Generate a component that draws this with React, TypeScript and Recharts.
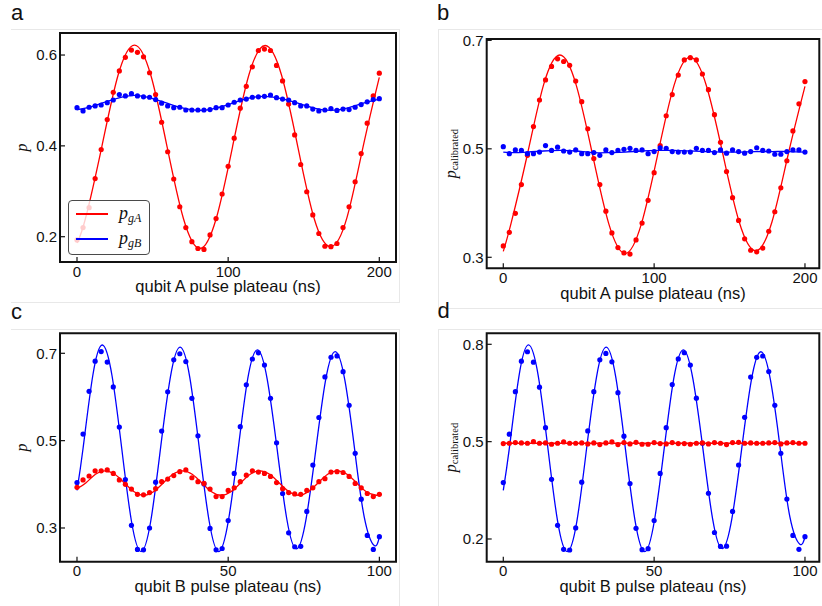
import {
  ComposedChart,
  Line,
  Scatter,
  XAxis,
  YAxis,
  ReferenceArea,
  Legend,
} from "recharts";

const SANS = '"Liberation Sans", Arial, Helvetica, sans-serif';
const SERIF = '"Liberation Serif", "Times New Roman", serif';
const RED = "#ff0000";
const BLUE = "#0000ff";

// pulse plateau grids (ns)
const tLong = [
  0, 4, 8, 12, 16, 20, 24, 28, 32, 36, 40, 44, 48, 52, 56, 60, 64, 68, 72, 76,
  80, 84, 88, 92, 96, 100, 104, 108, 112, 116, 120, 124, 128, 132, 136, 140,
  144, 148, 152, 156, 160, 164, 168, 172, 176, 180, 184, 188, 192, 196, 200,
];
const tShort = [
  0, 2, 4, 6, 8, 10, 12, 14, 16, 18, 20, 22, 24, 26, 28, 30, 32, 34, 36, 38,
  40, 42, 44, 46, 48, 50, 52, 54, 56, 58, 60, 62, 64, 66, 68, 70, 72, 74, 76,
  78, 80, 82, 84, 86, 88, 90, 92, 94, 96, 98, 100,
];

// panel a
const aRed = [
  0.193, 0.22, 0.264, 0.328, 0.392, 0.458, 0.518, 0.565, 0.595, 0.611, 0.606,
  0.596, 0.561, 0.513, 0.452, 0.387, 0.327, 0.266, 0.22, 0.189, 0.174, 0.172,
  0.204, 0.24, 0.294, 0.355, 0.417, 0.483, 0.531, 0.574, 0.61, 0.613, 0.61,
  0.577, 0.543, 0.492, 0.424, 0.359, 0.299, 0.248, 0.207, 0.179, 0.178, 0.185,
  0.22, 0.266, 0.321, 0.383, 0.45, 0.51, 0.56,
];
const aBlue = [
  0.484, 0.477, 0.485, 0.488, 0.49, 0.495, 0.501, 0.513, 0.51, 0.515, 0.51,
  0.508, 0.507, 0.502, 0.494, 0.488, 0.484, 0.485, 0.479, 0.479, 0.479, 0.479,
  0.48, 0.484, 0.484, 0.49, 0.496, 0.501, 0.503, 0.507, 0.508, 0.509, 0.512,
  0.506, 0.503, 0.501, 0.495, 0.488, 0.488, 0.481, 0.477, 0.479, 0.482, 0.478,
  0.481, 0.48, 0.485, 0.491, 0.497, 0.502, 0.504,
];
const aFitT = [
  0, 5.6, 16.4, 27.2, 38, 48.8, 59.6, 70.4, 81.3, 92.1, 102.9, 113.7, 124.5,
  135.3, 146.1, 156.9, 167.8, 178.6, 189.4, 200,
];
const aRedFit = [
  0.186, 0.24, 0.398, 0.556, 0.622, 0.556, 0.398, 0.24, 0.174, 0.24, 0.398,
  0.556, 0.621, 0.556, 0.398, 0.24, 0.178, 0.242, 0.4, 0.551,
];
const aBlueFit = [
  0.48, 0.483, 0.494, 0.505, 0.511, 0.505, 0.494, 0.483, 0.478, 0.483, 0.494,
  0.505, 0.509, 0.504, 0.494, 0.483, 0.478, 0.483, 0.494, 0.503,
];

// panel b
const bRed = [
  0.321, 0.346, 0.381, 0.434, 0.488, 0.541, 0.59, 0.627, 0.652, 0.666, 0.661,
  0.654, 0.625, 0.587, 0.537, 0.482, 0.434, 0.385, 0.345, 0.318, 0.308, 0.306,
  0.332, 0.363, 0.405, 0.456, 0.506, 0.561, 0.6, 0.636, 0.664, 0.668, 0.664,
  0.638, 0.609, 0.563, 0.512, 0.458, 0.41, 0.368, 0.334, 0.313, 0.31, 0.317,
  0.348, 0.384, 0.428, 0.478, 0.533, 0.583, 0.624,
];
const bBlue = [
  0.504, 0.491, 0.498, 0.497, 0.491, 0.491, 0.494, 0.506, 0.497, 0.503, 0.496,
  0.494, 0.498, 0.491, 0.491, 0.493, 0.488, 0.498, 0.493, 0.497, 0.499, 0.501,
  0.497, 0.498, 0.491, 0.495, 0.502, 0.501, 0.495, 0.494, 0.494, 0.494, 0.501,
  0.497, 0.497, 0.493, 0.498, 0.492, 0.498, 0.495, 0.492, 0.495, 0.502, 0.497,
  0.496, 0.49, 0.49, 0.495, 0.498, 0.498, 0.494,
];
const bFitT = [
  0, 5.1, 16, 26.7, 37.5, 48.3, 59.1, 69.9, 80.8, 91.6, 102.4, 113.2, 124,
  134.8, 145.6, 156.4, 167.3, 178.1, 188.9, 200,
];
const bRedFit = [
  0.311, 0.362, 0.49, 0.618, 0.673, 0.618, 0.49, 0.362, 0.307, 0.362, 0.49,
  0.617, 0.669, 0.615, 0.49, 0.365, 0.312, 0.365, 0.49, 0.615,
];
const bBlueFit = [
  0.494, 0.493, 0.494, 0.496, 0.497, 0.496, 0.493, 0.493, 0.494, 0.496, 0.497,
  0.497, 0.496, 0.495, 0.494, 0.494, 0.495, 0.495, 0.495, 0.494,
];

// panel c
const cBlue = [
  0.404, 0.515, 0.613, 0.682, 0.704, 0.68, 0.623, 0.531, 0.411, 0.306, 0.251,
  0.25, 0.3, 0.405, 0.522, 0.612, 0.685, 0.699, 0.681, 0.597, 0.511, 0.401,
  0.299, 0.25, 0.253, 0.317, 0.425, 0.532, 0.628, 0.687, 0.701, 0.673, 0.597,
  0.495, 0.379, 0.289, 0.257, 0.258, 0.338, 0.444, 0.553, 0.646, 0.691, 0.694,
  0.658, 0.581, 0.471, 0.366, 0.283, 0.251, 0.28,
];
const cRed = [
  0.393, 0.41, 0.419, 0.431, 0.431, 0.433, 0.425, 0.41, 0.4, 0.389, 0.377,
  0.376, 0.381, 0.39, 0.406, 0.412, 0.42, 0.429, 0.433, 0.415, 0.406, 0.402,
  0.389, 0.372, 0.372, 0.386, 0.392, 0.406, 0.421, 0.431, 0.428, 0.425, 0.418,
  0.404, 0.39, 0.381, 0.378, 0.377, 0.386, 0.392, 0.406, 0.413, 0.428, 0.429,
  0.427, 0.418, 0.402, 0.392, 0.379, 0.372, 0.377,
];
const cBlueFitT = [
  0, 2, 5.2, 8.4, 11.6, 14.8, 18, 21.2, 24.4, 27.6, 30.9, 34.1, 37.3, 40.5,
  43.7, 46.9, 50.1, 53.3, 56.5, 59.7, 62.9, 66.2, 69.4, 72.6, 75.8, 79, 82.2,
  85.4, 88.6, 91.8, 95, 98.3, 100,
];
const cBlueFit = [
  0.386, 0.482, 0.648, 0.719, 0.648, 0.482, 0.316, 0.246, 0.316, 0.481, 0.646,
  0.714, 0.645, 0.48, 0.316, 0.246, 0.318, 0.48, 0.643, 0.708, 0.641, 0.48,
  0.32, 0.252, 0.322, 0.48, 0.638, 0.704, 0.638, 0.481, 0.325, 0.26, 0.279,
];
const cRedFitT = [
  0, 2.9, 6.1, 9.3, 12.5, 15.7, 18.9, 22.1, 25.3, 28.5, 31.7, 34.9, 38.1,
  41.3, 44.5, 47.7, 50.9, 54.1, 57.3, 60.5, 63.7, 66.9, 70.1, 73.3, 76.5,
  79.7, 82.9, 86.1, 89.3, 92.5, 95.7, 98.9, 100,
];
const cRedFit = [
  0.39, 0.403, 0.423, 0.431, 0.423, 0.403, 0.383, 0.375, 0.383, 0.403, 0.423,
  0.431, 0.423, 0.403, 0.383, 0.375, 0.383, 0.403, 0.423, 0.431, 0.423, 0.403,
  0.383, 0.375, 0.383, 0.403, 0.423, 0.431, 0.423, 0.403, 0.383, 0.375, 0.376,
];

// panel d
const dBlue = [
  0.374, 0.523, 0.654, 0.748, 0.777, 0.745, 0.668, 0.543, 0.384, 0.242, 0.168,
  0.166, 0.234, 0.375, 0.533, 0.654, 0.752, 0.772, 0.746, 0.651, 0.517, 0.371,
  0.233, 0.167, 0.17, 0.257, 0.402, 0.543, 0.676, 0.755, 0.774, 0.736, 0.634,
  0.495, 0.341, 0.22, 0.177, 0.178, 0.285, 0.428, 0.575, 0.699, 0.76, 0.764,
  0.716, 0.612, 0.464, 0.323, 0.211, 0.168, 0.207,
];
const dRed = [
  0.494, 0.495, 0.497, 0.496, 0.495, 0.5, 0.495, 0.496, 0.492, 0.495, 0.499,
  0.495, 0.495, 0.496, 0.493, 0.496, 0.491, 0.496, 0.499, 0.491, 0.497, 0.493,
  0.498, 0.492, 0.492, 0.497, 0.494, 0.493, 0.497, 0.494, 0.494, 0.492, 0.495,
  0.496, 0.493, 0.497, 0.495, 0.491, 0.497, 0.498, 0.495, 0.496, 0.495, 0.495,
  0.496, 0.497, 0.493, 0.496, 0.497, 0.495, 0.495,
];
const dBlueFit = [
  0.35, 0.479, 0.702, 0.798, 0.702, 0.479, 0.255, 0.161, 0.255, 0.478, 0.699,
  0.791, 0.698, 0.476, 0.255, 0.161, 0.257, 0.476, 0.694, 0.783, 0.691, 0.476,
  0.261, 0.17, 0.264, 0.476, 0.688, 0.777, 0.688, 0.478, 0.268, 0.184, 0.206,
];
const dRedFitT = [0, 100];
const dRedFit = [0.495, 0.495];

const ticksLong = [0, 100, 200];
const ticksShort = [0, 50, 100];

type Pt = { t: number; v: number };
const zip = (ts: number[], vs: number[]): Pt[] =>
  ts.map((t, i) => ({ t, v: vs[i] }));

interface Series {
  name: string;
  color: string;
  points: Pt[];
  fit: Pt[];
  fitType: "natural" | "linear";
}

function YLabel({ viewBox, dx, sub }: any) {
  const x = viewBox.x + dx;
  const y = viewBox.y + viewBox.height / 2;
  return (
    <text
      x={x}
      y={y}
      transform={`rotate(-90 ${x} ${y})`}
      textAnchor="middle"
      fill="#111"
      fontFamily={SERIF}
    >
      <tspan fontStyle="italic" fontSize={16}>
        p
      </tspan>
      {sub ? (
        <tspan fontSize={10.5} dy={2}>
          {sub}
        </tspan>
      ) : null}
    </text>
  );
}

function LegendBox() {
  const rows = [
    { color: RED, sub: "gA" },
    { color: BLUE, sub: "gB" },
  ];
  return (
    <div
      style={{
        width: 82,
        height: 55,
        boxSizing: "border-box",
        border: "1px solid #4a4a4a",
        borderRadius: 4,
        background: "rgba(255,255,255,0.8)",
      }}
    >
      {rows.map((r) => (
        <div
          key={r.sub}
          style={{ display: "flex", alignItems: "center", height: 25, paddingLeft: 7 }}
        >
          <div style={{ width: 32, height: 2, background: r.color, marginRight: 11, flexShrink: 0 }} />
          <span style={{ fontFamily: SERIF, fontStyle: "italic", fontSize: 18, color: "#111", lineHeight: "18px" }}>
            p
            <span style={{ fontSize: 12, position: "relative", top: 3 }}>{r.sub}</span>
          </span>
        </div>
      ))}
    </div>
  );
}

interface PanelProps {
  left: number;
  top: number;
  margin: { top: number; right: number; bottom: number; left: number };
  yWidth: number;
  yLabelDx: number;
  sub?: string;
  xLabel: string;
  xDomain: [number, number];
  xTicks: number[];
  yDomain: [number, number];
  yTicks: number[];
  series: Series[];
  legend?: boolean;
}

function Panel(p: PanelProps) {
  return (
    <div style={{ position: "absolute", left: p.left, top: p.top }}>
      <ComposedChart width={411} height={303} margin={p.margin}>
        <XAxis
          type="number"
          dataKey="t"
          domain={p.xDomain}
          ticks={p.xTicks}
          allowDataOverflow
          interval={0}
          height={34}
          axisLine={false}
          tickSize={-5}
          tickMargin={9}
          tickLine={{ stroke: "#111", strokeWidth: 1.2 }}
          tick={{ fontSize: 15, fill: "#111", fontFamily: SANS }}
          label={{
            value: p.xLabel,
            position: "insideBottom",
            offset: 3.8,
            fontSize: 16.5,
            fill: "#111",
            fontFamily: SANS,
          }}
        />
        <YAxis
          type="number"
          dataKey="v"
          domain={p.yDomain}
          ticks={p.yTicks}
          allowDataOverflow
          interval={0}
          width={p.yWidth}
          axisLine={false}
          tickSize={-5}
          tickMargin={8}
          tickLine={{ stroke: "#111", strokeWidth: 1.2 }}
          tick={{ fontSize: 15, fill: "#111", fontFamily: SANS }}
          tickFormatter={(v: number) => v.toFixed(1)}
          label={<YLabel dx={p.yLabelDx} sub={p.sub} />}
        />
        {p.series.map((s) => (
          <Line
            key={s.name + "-fit"}
            data={s.fit}
            dataKey="v"
            type={s.fitType}
            stroke={s.color}
            strokeWidth={1.3}
            dot={false}
            activeDot={false}
            isAnimationActive={false}
          />
        ))}
        {p.series.map((s) => (
          <Scatter
            key={s.name + "-pts"}
            name={s.name}
            data={s.points}
            dataKey="v"
            fill={s.color}
            isAnimationActive={false}
            shape={(props: any) => (
              <circle cx={props.cx} cy={props.cy} r={2.6} fill={s.color} />
            )}
          />
        ))}
        <ReferenceArea
          x1={p.xDomain[0]}
          x2={p.xDomain[1]}
          y1={p.yDomain[0]}
          y2={p.yDomain[1]}
          fill="none"
          fillOpacity={0}
          stroke="#111"
          strokeWidth={2}
          ifOverflow="visible"
        />
        {p.legend ? (
          <Legend
            layout="horizontal"
            verticalAlign="middle"
            align="center"
            width={82}
            wrapperStyle={{ left: 68, top: 200 }}
            content={() => <LegendBox />}
          />
        ) : null}
      </ComposedChart>
    </div>
  );
}

const cardLine = "1px solid #e8e8e8";

function Tag({ text, left, top }: { text: string; left: number; top: number }) {
  return (
    <div
      style={{
        position: "absolute",
        left,
        top,
        fontFamily: SANS,
        fontSize: 22,
        lineHeight: "22px",
        color: "#111",
      }}
    >
      {text}
    </div>
  );
}

export default function App() {
  const seriesA: Series[] = [
    { name: "pgA", color: RED, points: zip(tLong, aRed), fit: zip(aFitT, aRedFit), fitType: "natural" },
    { name: "pgB", color: BLUE, points: zip(tLong, aBlue), fit: zip(aFitT, aBlueFit), fitType: "natural" },
  ];
  const seriesB: Series[] = [
    { name: "pgA", color: RED, points: zip(tLong, bRed), fit: zip(bFitT, bRedFit), fitType: "natural" },
    { name: "pgB", color: BLUE, points: zip(tLong, bBlue), fit: zip(bFitT, bBlueFit), fitType: "natural" },
  ];
  const seriesC: Series[] = [
    { name: "pgB", color: BLUE, points: zip(tShort, cBlue), fit: zip(cBlueFitT, cBlueFit), fitType: "natural" },
    { name: "pgA", color: RED, points: zip(tShort, cRed), fit: zip(cRedFitT, cRedFit), fitType: "natural" },
  ];
  const seriesD: Series[] = [
    { name: "pgB", color: BLUE, points: zip(tShort, dBlue), fit: zip(cBlueFitT, dBlueFit), fitType: "natural" },
    { name: "pgA", color: RED, points: zip(tShort, dRed), fit: zip(dRedFitT, dRedFit), fitType: "linear" },
  ];

  return (
    <div
      style={{
        position: "absolute",
        left: 0,
        top: 0,
        width: 822,
        height: 606,
        background: "#fff",
        overflow: "hidden",
      }}
    >
      <div style={{ position: "absolute", left: 11, top: 29, width: 388, height: 272, borderTop: cardLine, borderRight: cardLine, borderBottom: cardLine }} />
      <div style={{ position: "absolute", left: 438, top: 29, width: 400, height: 278, borderTop: cardLine, borderLeft: cardLine, borderBottom: cardLine }} />
      <div style={{ position: "absolute", left: 11, top: 329, width: 388, height: 300, borderTop: cardLine, borderRight: cardLine }} />
      <div style={{ position: "absolute", left: 438, top: 329, width: 400, height: 300, borderTop: cardLine, borderLeft: cardLine }} />

      <Tag text="a" left={11} top={2} />
      <Tag text="b" left={437} top={1.5} />
      <Tag text="c" left={11} top={300.5} />
      <Tag text="d" left={437.5} top={299.5} />

      <Panel
        left={0}
        top={0}
        margin={{ top: 33, right: 15, bottom: 7, left: 10 }}
        yWidth={50}
        yLabelDx={16.9}
        xLabel="qubit A pulse plateau (ns)"
        xDomain={[-11.25, 211.05]}
        xTicks={ticksLong}
        yDomain={[0.1443, 0.6485]}
        yTicks={[0.2, 0.4, 0.6]}
        series={seriesA}
        legend
      />
      <Panel
        left={411}
        top={0}
        margin={{ top: 39, right: 2.7, bottom: 0.7, left: 15.7 }}
        yWidth={60}
        yLabelDx={29}
        sub="calibrated"
        xLabel="qubit A pulse plateau (ns)"
        xDomain={[-11, 209.5]}
        xTicks={ticksLong}
        yDomain={[0.2797, 0.7025]}
        yTicks={[0.3, 0.5, 0.7]}
        series={seriesB}
      />
      <Panel
        left={0}
        top={303}
        margin={{ top: 30.3, right: 15, bottom: 10.3, left: 10 }}
        yWidth={50}
        yLabelDx={16.9}
        xLabel="qubit B pulse plateau (ns)"
        xDomain={[-5.62, 105.5]}
        xTicks={ticksShort}
        yDomain={[0.2228, 0.7458]}
        yTicks={[0.3, 0.5, 0.7]}
        series={seriesC}
      />
      <Panel
        left={411}
        top={303}
        margin={{ top: 30.3, right: 2.7, bottom: 10.3, left: 15.7 }}
        yWidth={60}
        yLabelDx={29}
        sub="calibrated"
        xLabel="qubit B pulse plateau (ns)"
        xDomain={[-5.5, 104.75]}
        xTicks={ticksShort}
        yDomain={[0.13, 0.8339]}
        yTicks={[0.2, 0.5, 0.8]}
        series={seriesD}
      />
    </div>
  );
}
